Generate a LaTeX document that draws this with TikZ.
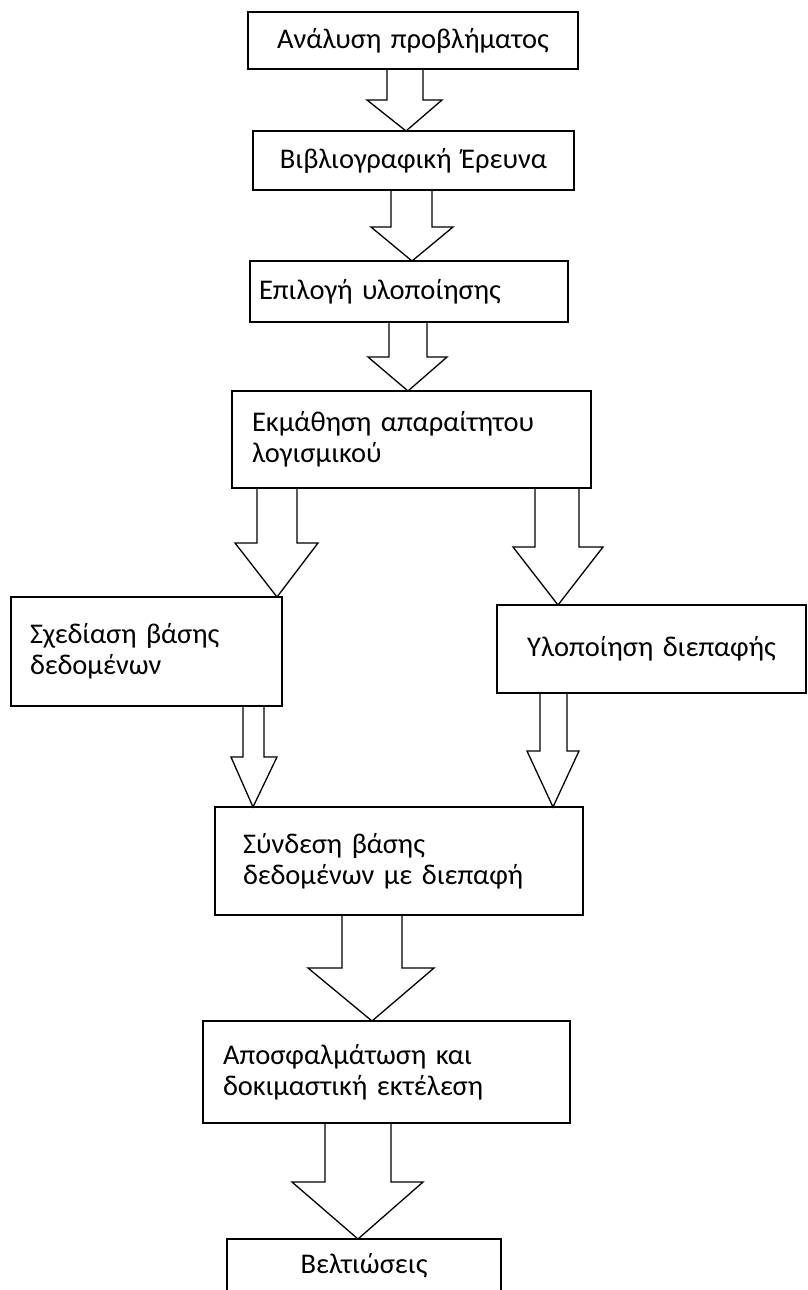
\documentclass[tikz,border=0pt]{standalone}
\usepackage{fontspec}
\setmainfont{Carlito}
\usetikzlibrary{calc}

\tikzset{
  box/.style={draw, line width=1.6pt, anchor=north west, inner ysep=0pt,
    outer sep=0pt, font=\fontsize{28.5}{31}\selectfont},
  leftbox/.style={box, align=left},
  midbox/.style={box, align=center},
  blockline/.style={line width=1.3pt, line join=miter},
}

% hollow block arrow from the bottom of one box to the top of another:
% #1 source, #2 target, #3/#4 shaft sides, #5 neck level,
% #6/#7 head corners, #8 tip
\newcommand\blockarrow[8]{%
  \draw[blockline] (#3,0 |- #1.south) -- (#3,#5) -- (#6,#5)
    -- (#8,0 |- #2.north) -- (#7,#5) -- (#4,#5) -- (#4,0 |- #1.south);
}

\begin{document}
\begin{tikzpicture}[x=1pt,y=-1pt]
\useasboundingbox (0,0) rectangle (808,1290);
\fill[white] (0,0) rectangle (808,1290);
\clip (0,0) rectangle (808,1290);

% process steps
\node[midbox, text width=310pt, inner xsep=10pt, minimum height=57pt]
  (b1) at (248,12) {Ανάλυση προβλήματος};
\node[midbox, text width=301pt, inner xsep=10pt, minimum height=59pt]
  (b2) at (253,131) {Βιβλιογραφική Έρευνα};
\node[leftbox, text width=300pt, inner xsep=9pt, minimum height=61pt]
  (b3) at (250,261) {Επιλογή υλοποίησης};
\node[leftbox, text width=319pt, inner xsep=20pt, minimum height=97pt]
  (b4) at (232,391) {Εκμάθηση απαραίτητου\\λογισμικού};
\node[leftbox, text width=233pt, inner xsep=19pt, minimum height=109pt]
  (b5) at (11,597) {Σχεδίαση βάσης\\δεδομένων};
\node[midbox, text width=299pt, inner xsep=5pt, minimum height=88pt]
  (b6) at (497,605) {Υλοποίηση διεπαφής};
\node[leftbox, text width=312pt, inner xsep=28pt, minimum height=108pt]
  (b7) at (215,807) {Σύνδεση βάσης\\δεδομένων με διεπαφή};
\node[leftbox, text width=327pt, inner xsep=20pt, minimum height=102pt]
  (b8) at (203,1021) {Αποσφαλμάτωση και\\δοκιμαστική εκτέλεση};
\node[midbox, text width=264pt, inner xsep=5pt, minimum height=54pt]
  (b9) at (227,1239) {Βελτιώσεις};

% connectors
\blockarrow{b1}{b2}{387}{423}{100}{367}{442}{406}
\blockarrow{b2}{b3}{391}{432}{227}{371}{453}{412}
\blockarrow{b3}{b4}{389}{427}{357}{368}{447}{408}
\blockarrow{b4}{b5}{257}{297}{543}{235}{318}{277}
\blockarrow{b4}{b6}{535}{579}{547}{513}{603}{558}
\blockarrow{b5}{b7}{243}{264}{757}{231}{277}{253}
\blockarrow{b6}{b7}{540}{567}{751}{527}{579}{553}
\blockarrow{b7}{b8}{342}{402}{968}{308}{434}{372}
\blockarrow{b8}{b9}{325}{391}{1182}{292}{423}{358}
\end{tikzpicture}
\end{document}
